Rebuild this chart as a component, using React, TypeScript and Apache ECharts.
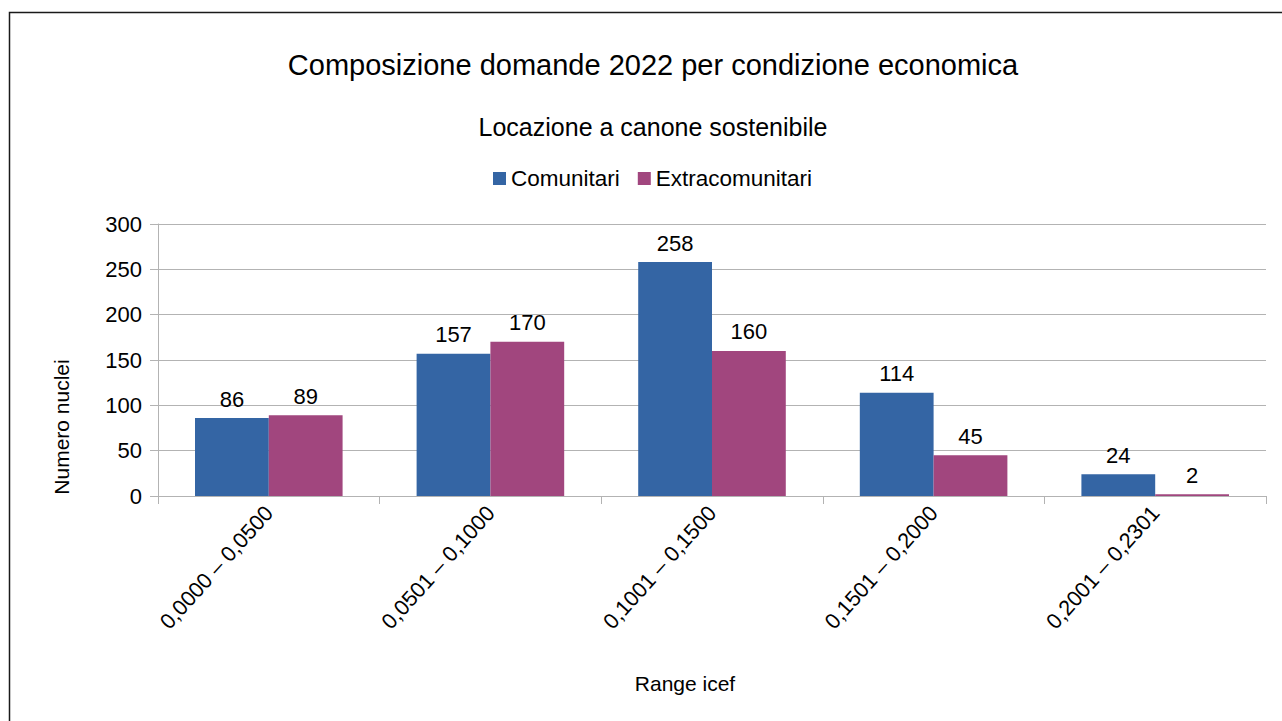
import React, { useEffect, useRef } from "react";
import * as echarts from "echarts";

const categories = ["0,0000 – 0,0500", "0,0501 – 0,1000", "0,1001 – 0,1500", "0,1501 – 0,2000", "0,2001 – 0,2301"];
const comunitari = [86, 157, 258, 114, 24];
const extracomunitari = [89, 170, 160, 45, 2];
const seriesNames = ["Comunitari", "Extracomunitari"];
const titleText = "Composizione domande 2022 per condizione economica";
const subtitleText = "Locazione a canone sostenibile";

const FONT = "'Liberation Sans', Arial, sans-serif";

export default function App() {
  const ref = useRef<HTMLDivElement>(null);
  useEffect(() => {
    if (!ref.current) return;
    const chart = echarts.init(ref.current, undefined, { renderer: "svg" });
    const labelStyle = { show: true, position: "top", color: "#000", fontSize: 22, fontFamily: FONT, distance: 8 };
    chart.setOption({
      animation: false,
      backgroundColor: "#fff",
      textStyle: { fontFamily: FONT },
      graphic: [
        {
          type: "rect",
          shape: { x: 9.5, y: 12.5, width: 1300, height: 720 },
          style: { fill: "none", stroke: "#1a1a1a", lineWidth: 1.5 },
          silent: true,
        },
      ],
      title: [
        {
          text: titleText,
          left: 648,
          textAlign: "center",
          top: 45,
          textStyle: { fontSize: 29, fontWeight: "normal", color: "#000", fontFamily: FONT },
        },
        {
          text: subtitleText,
          left: 648,
          textAlign: "center",
          top: 109,
          textStyle: { fontSize: 25, fontWeight: "normal", color: "#000", fontFamily: FONT },
        },
      ],
      legend: {
        data: seriesNames,
        top: 162,
        left: 488,
        icon: "rect",
        itemWidth: 13,
        itemHeight: 13,
        itemGap: 18,
        textStyle: { fontSize: 22.5, color: "#000", fontFamily: FONT },
      },
      grid: { left: 158, right: 16, top: 224, bottom: 225, containLabel: false },
      xAxis: {
        type: "category",
        data: categories,
        name: "Range icef",
        nameLocation: "middle",
        nameGap: 177,
        nameTextStyle: { fontSize: 21, color: "#000", fontFamily: FONT, padding: [0, 54, 0, 0] },
        axisLine: { show: true, lineStyle: { color: "#b3b3b3", width: 1 } },
        axisTick: { show: true, length: 8, lineStyle: { color: "#b3b3b3" } },
        axisLabel: { rotate: 48, fontSize: 21.7, color: "#000", fontFamily: FONT, margin: 13 },
      },
      yAxis: {
        type: "value",
        min: 0,
        max: 300,
        interval: 50,
        name: "Numero nuclei",
        nameLocation: "middle",
        nameGap: 86,
        nameRotate: 90,
        nameTextStyle: { fontSize: 21, color: "#000", fontFamily: FONT, padding: [0, 134, 0, 0] },
        axisLine: { show: true, lineStyle: { color: "#b3b3b3", width: 1 } },
        axisTick: { show: true, length: 8, lineStyle: { color: "#b3b3b3" } },
        axisLabel: { fontSize: 22, color: "#000", fontFamily: FONT, margin: 16 },
        splitLine: { show: true, lineStyle: { color: "#b3b3b3", width: 1 } },
      },
      series: [
        {
          name: seriesNames[0],
          type: "bar",
          data: comunitari,
          itemStyle: { color: "#3465a4" },
          barGap: "0%",
          barCategoryGap: "33.4%",
          label: labelStyle,
        },
        {
          name: seriesNames[1],
          type: "bar",
          data: extracomunitari,
          itemStyle: { color: "#a1467e" },
          barGap: "0%",
          barCategoryGap: "33.4%",
          label: labelStyle,
        },
      ],
    });
    return () => chart.dispose();
  }, []);
  return <div ref={ref} style={{ position: "fixed", left: 0, top: 0, width: 1282, height: 721 }} />;
}
